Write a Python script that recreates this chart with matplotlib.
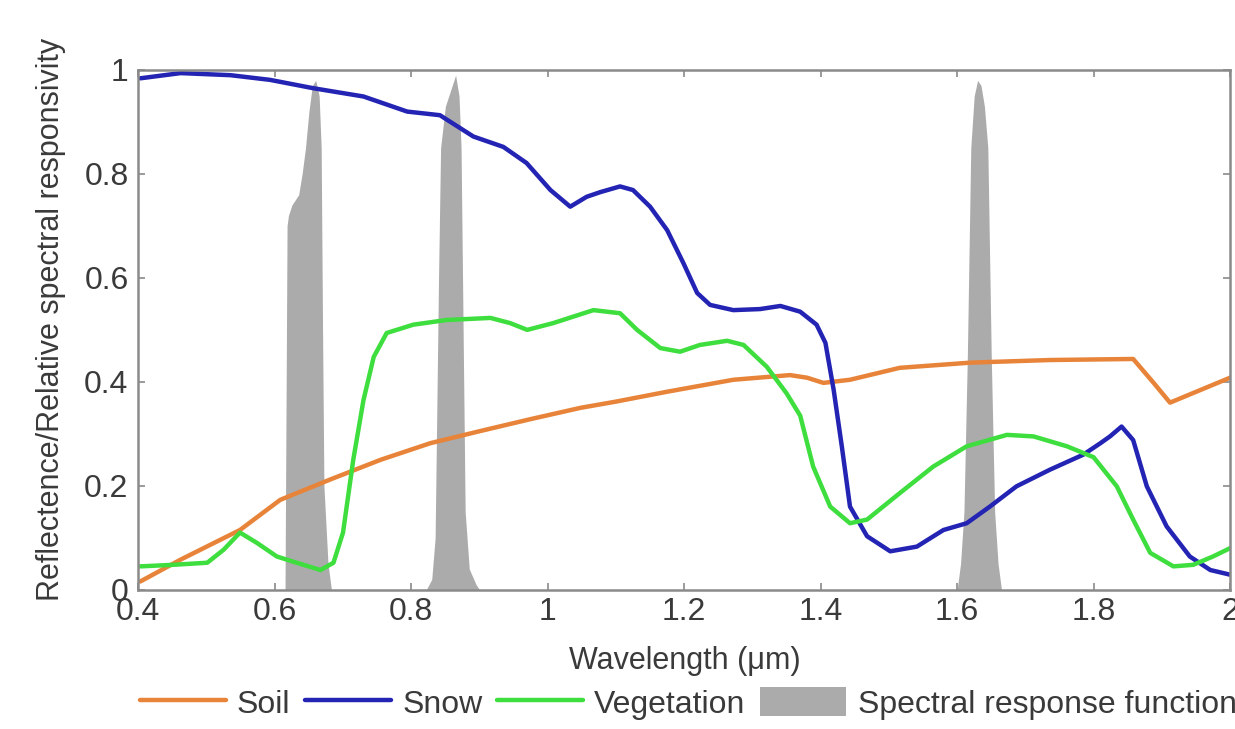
import numpy as np
import matplotlib
matplotlib.use("Agg")
import matplotlib.pyplot as plt

plt.rcParams['font.family'] = ['Liberation Sans', 'DejaVu Sans']

# soil reflectance
soil_wl = [0.403, 0.462, 0.549, 0.608, 0.681, 0.755, 0.828, 0.90, 0.974, 1.048, 1.10, 1.175, 1.272,
           1.355, 1.38, 1.404, 1.443, 1.516, 1.62, 1.736, 1.858, 1.888, 1.912, 2.00]
soil = [0.016, 0.058, 0.115, 0.173, 0.212, 0.250, 0.282, 0.305, 0.328, 0.350, 0.362, 0.381, 0.404,
        0.413, 0.408, 0.398, 0.404, 0.427, 0.437, 0.442, 0.444, 0.398, 0.36, 0.408]

# snow reflectance
snow_wl = [0.403, 0.462, 0.535, 0.593, 0.656, 0.730, 0.794, 0.842, 0.891, 0.935, 0.969, 1.004, 1.033,
           1.057, 1.077, 1.106, 1.125, 1.150, 1.175, 1.199, 1.219, 1.238, 1.272, 1.311, 1.341, 1.370,
           1.394, 1.407, 1.419, 1.431, 1.443, 1.468, 1.502, 1.541, 1.580, 1.614, 1.648, 1.687, 1.736,
           1.785, 1.81, 1.824, 1.841, 1.858, 1.878, 1.907, 1.941, 1.971, 2.00]
snow = [0.984, 0.994, 0.99, 0.981, 0.965, 0.949, 0.920, 0.913, 0.872, 0.852, 0.821, 0.769, 0.737,
        0.756, 0.765, 0.776, 0.769, 0.737, 0.692, 0.628, 0.571, 0.548, 0.538, 0.540, 0.546, 0.535,
        0.510, 0.475, 0.385, 0.276, 0.160, 0.103, 0.074, 0.083, 0.115, 0.128, 0.160, 0.199, 0.231,
        0.260, 0.282, 0.295, 0.314, 0.288, 0.199, 0.122, 0.064, 0.038, 0.029]

# vegetation reflectance
veg_wl = [0.403, 0.451, 0.501, 0.525, 0.549, 0.574, 0.603, 0.632, 0.667, 0.686, 0.70, 0.715, 0.730,
          0.745, 0.764, 0.803, 0.852, 0.916, 0.945, 0.97, 1.008, 1.067, 1.106, 1.131, 1.165, 1.194,
          1.223, 1.263, 1.287, 1.321, 1.350, 1.370, 1.389, 1.414, 1.443, 1.468, 1.516, 1.565, 1.614,
          1.673, 1.712, 1.761, 1.80, 1.834, 1.858, 1.883, 1.917, 1.946, 1.975, 2.00]
veg = [0.045, 0.048, 0.052, 0.077, 0.110, 0.090, 0.064, 0.052, 0.038, 0.052, 0.11, 0.25, 0.365,
       0.448, 0.494, 0.51, 0.519, 0.523, 0.513, 0.50, 0.513, 0.538, 0.532, 0.50, 0.465, 0.458,
       0.471, 0.479, 0.471, 0.429, 0.378, 0.335, 0.237, 0.16, 0.128, 0.135, 0.186, 0.237, 0.276,
       0.298, 0.295, 0.276, 0.255, 0.199, 0.135, 0.071, 0.045, 0.048, 0.064, 0.08]

# spectral response functions (three bands)
srf1_wl = [0.615, 0.618, 0.62, 0.625, 0.635, 0.64, 0.645, 0.65, 0.655, 0.66, 0.665, 0.668, 0.67,
           0.672, 0.678, 0.683]
srf1 = [0.0, 0.70, 0.72, 0.74, 0.76, 0.80, 0.85, 0.92, 0.97, 0.98, 0.95, 0.85, 0.5, 0.2, 0.05, 0.0]
srf2_wl = [0.822, 0.83, 0.835, 0.84, 0.843, 0.85, 0.855, 0.86, 0.865, 0.87, 0.873, 0.876, 0.879,
           0.885, 0.895, 0.90]
srf2 = [0.0, 0.02, 0.1, 0.6, 0.85, 0.93, 0.95, 0.97, 0.99, 0.95, 0.85, 0.5, 0.15, 0.04, 0.01, 0.0]
srf3_wl = [1.60, 1.605, 1.61, 1.615, 1.62, 1.625, 1.63, 1.635, 1.64, 1.645, 1.65, 1.655, 1.66, 1.665]
srf3 = [0.0, 0.05, 0.15, 0.45, 0.85, 0.95, 0.98, 0.97, 0.93, 0.85, 0.45, 0.15, 0.05, 0.0]

xticks = [0.4, 0.6, 0.8, 1, 1.2, 1.4, 1.6, 1.8, 2]
xticklabels = ['0.4', '0.6', '0.8', '1', '1.2', '1.4', '1.6', '1.8', '2']
yticks = [0, 0.2, 0.4, 0.6, 0.8, 1]
yticklabels = ['0', '0.2', '0.4', '0.6', '0.8', '1']

fig = plt.figure(figsize=(12.35, 7.29), dpi=100)
ax = fig.add_axes([0.112, 0.191, 0.884, 0.713])

gray = '#ababab'
for wl, r in [(srf1_wl, srf1), (srf2_wl, srf2), (srf3_wl, srf3)]:
    ax.fill_between(wl, 0, r, color=gray, lw=0)

kw = dict(lw=3.2, solid_joinstyle='round', solid_capstyle='round')
ax.plot(soil_wl, soil, color='#e8843a', label='Soil', **kw)
ax.plot(snow_wl, snow, color='#2424b4', label='Snow', **kw)
ax.plot(veg_wl, veg, color='#3ede3e', label='Vegetation', **kw)
ax.fill_between([], [], color=gray, lw=0, label='Spectral response function')

ax.set_xlim(0.4, 2)
ax.set_ylim(0, 1)
ax.set_xticks(xticks)
ax.set_xticklabels(xticklabels)
ax.set_yticks(yticks)
ax.set_yticklabels(yticklabels)
ax.tick_params(direction='in', top=True, right=True, length=5, width=1.2,
               color='#8a8a8a', labelsize=23, labelcolor='#3a3a3a')
ax.tick_params(axis='y', pad=7)
ax.tick_params(axis='x', pad=5)
for s in ax.spines.values():
    s.set_color('#8a8a8a')
    s.set_linewidth(1.8)

ax.set_xlabel('Wavelength (\u03bcm)', fontsize=22, color='#3a3a3a')
ax.xaxis.set_label_coords(0.501, -0.108)
ax.set_ylabel('Reflectence/Relative spectral responsivity', fontsize=22, color='#3a3a3a')
ax.yaxis.set_label_coords(-0.066, 0.52)

fig.legend(loc='center left', bbox_to_anchor=(0.113, 0.035), ncol=4, frameon=False,
           fontsize=23, handlelength=2.7, handleheight=1.0, handletextpad=0.35,
           columnspacing=0.45, borderpad=0, borderaxespad=0, labelcolor='#3a3a3a')

fig.savefig('out.png', dpi=100)
